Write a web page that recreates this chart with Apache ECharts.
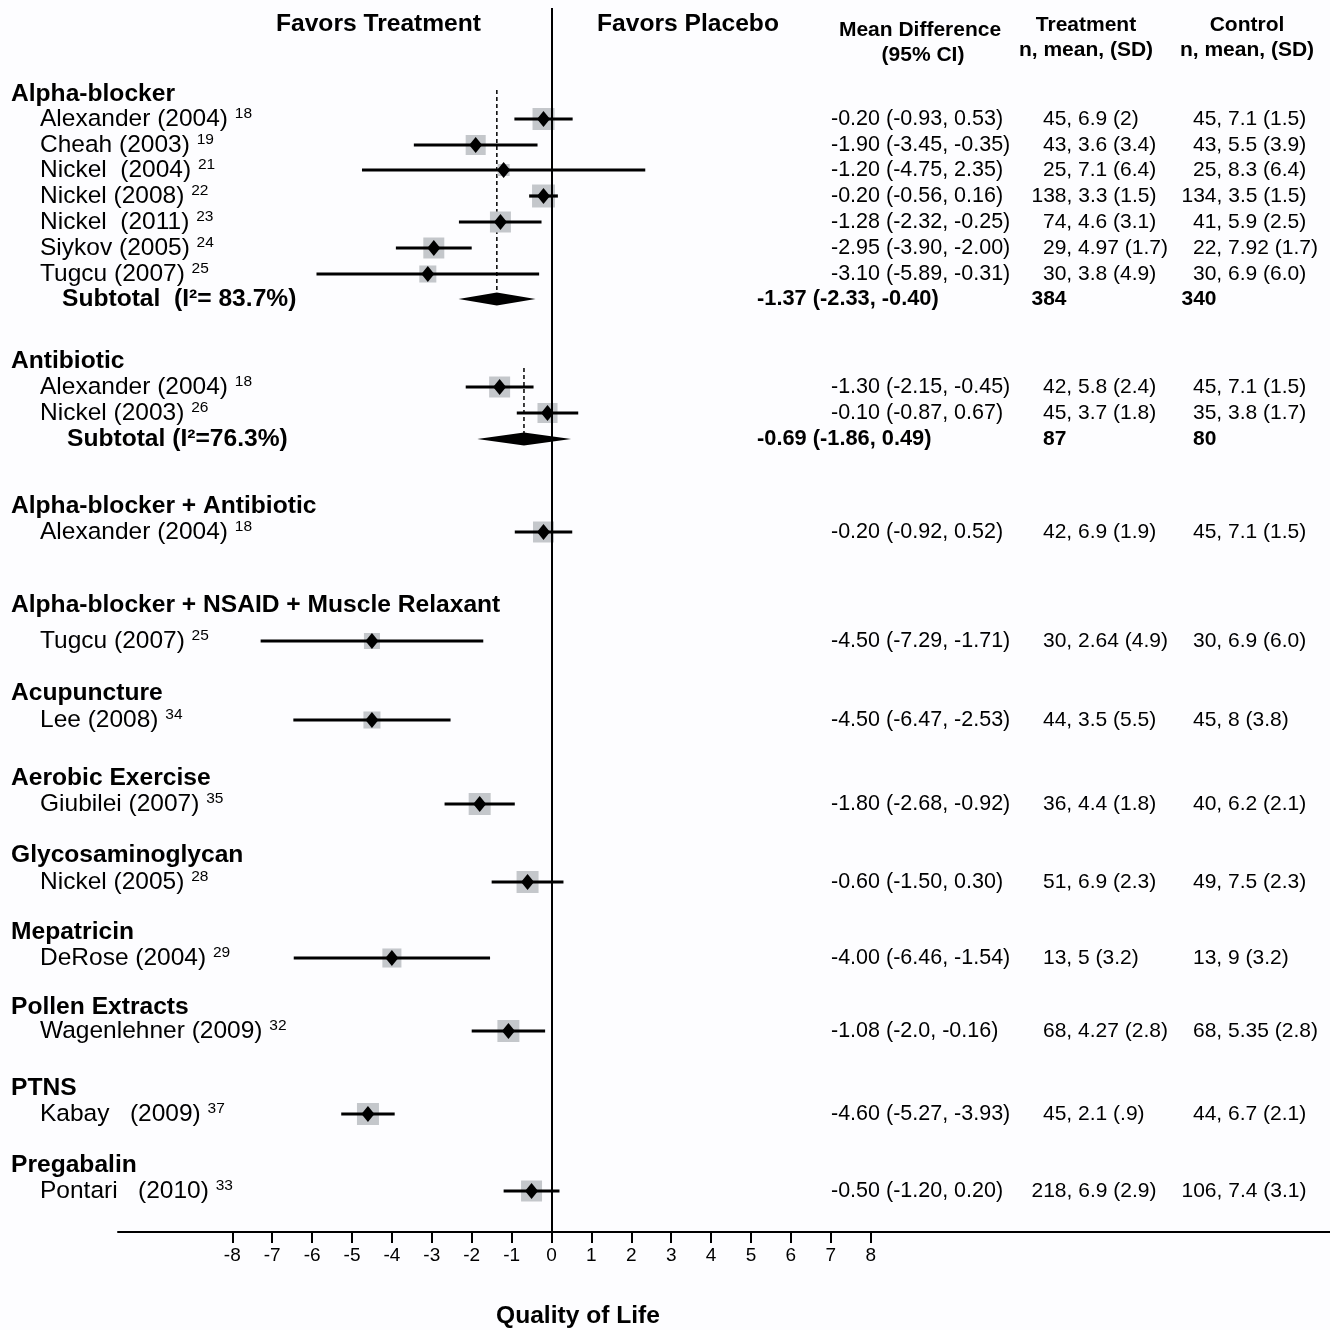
<!DOCTYPE html>
<html>
<head>
<meta charset="utf-8">
<title>Quality of Life</title>
<script src="https://cdn.jsdelivr.net/npm/echarts@6/dist/echarts.min.js"></script>
<style>
html, body { margin: 0; padding: 0; background: #fdfdff; }
#chart { width: 1330px; height: 1330px; }
</style>
</head>
<body>
<div id="chart"></div>
<script>
// ---- data ----
var groupNames = ['Alpha-blocker', 'Antibiotic', 'Alpha-blocker + Antibiotic',
    'Alpha-blocker + NSAID + Muscle Relaxant', 'Acupuncture', 'Aerobic Exercise',
    'Glycosaminoglycan', 'Mepatricin', 'Pollen Extracts', 'PTNS', 'Pregabalin'];

var studyNames = ['Alexander (2004)', 'Cheah (2003)', 'Nickel  (2004)', 'Nickel (2008)',
    'Nickel  (2011)', 'Siykov (2005)', 'Tugcu (2007)', 'Alexander (2004)', 'Nickel (2003)',
    'Alexander (2004)', 'Tugcu (2007)', 'Lee (2008)', 'Giubilei (2007)', 'Nickel (2005)',
    'DeRose (2004)', 'Wagenlehner (2009)', 'Kabay   (2009)', 'Pontari   (2010)'];
var studyRefs = ['18', '19', '21', '22', '23', '24', '25', '18', '26', '18', '25', '34',
    '35', '28', '29', '32', '37', '33'];
var meanDiff = [-0.20, -1.90, -1.20, -0.20, -1.28, -2.95, -3.10, -1.30, -0.10, -0.20,
    -4.50, -4.50, -1.80, -0.60, -4.00, -1.08, -4.60, -0.50];
var ciLow = [-0.93, -3.45, -4.75, -0.56, -2.32, -3.90, -5.89, -2.15, -0.87, -0.92,
    -7.29, -6.47, -2.68, -1.50, -6.46, -2.0, -5.27, -1.20];
var ciHigh = [0.53, -0.35, 2.35, 0.16, -0.25, -2.00, -0.31, -0.45, 0.67, 0.52,
    -1.71, -2.53, -0.92, 0.30, -1.54, -0.16, -3.93, 0.20];
var boxWeight = [100, 83, 30, 109, 91, 91, 60, 91, 83, 91, 53, 60, 100, 100, 75, 100, 100, 91];
var ciText = ['-0.20 (-0.93, 0.53)', '-1.90 (-3.45, -0.35)', '-1.20 (-4.75, 2.35)',
    '-0.20 (-0.56, 0.16)', '-1.28 (-2.32, -0.25)', '-2.95 (-3.90, -2.00)',
    '-3.10 (-5.89, -0.31)', '-1.30 (-2.15, -0.45)', '-0.10 (-0.87, 0.67)',
    '-0.20 (-0.92, 0.52)', '-4.50 (-7.29, -1.71)', '-4.50 (-6.47, -2.53)',
    '-1.80 (-2.68, -0.92)', '-0.60 (-1.50, 0.30)', '-4.00 (-6.46, -1.54)',
    '-1.08 (-2.0, -0.16)', '-4.60 (-5.27, -3.93)', '-0.50 (-1.20, 0.20)'];
var treatText = ['45, 6.9 (2)', '43, 3.6 (3.4)', '25, 7.1 (6.4)', '138, 3.3 (1.5)',
    '74, 4.6 (3.1)', '29, 4.97 (1.7)', '30, 3.8 (4.9)', '42, 5.8 (2.4)', '45, 3.7 (1.8)',
    '42, 6.9 (1.9)', '30, 2.64 (4.9)', '44, 3.5 (5.5)', '36, 4.4 (1.8)', '51, 6.9 (2.3)',
    '13, 5 (3.2)', '68, 4.27 (2.8)', '45, 2.1 (.9)', '218, 6.9 (2.9)'];
var controlText = ['45, 7.1 (1.5)', '43, 5.5 (3.9)', '25, 8.3 (6.4)', '134, 3.5 (1.5)',
    '41, 5.9 (2.5)', '22, 7.92 (1.7)', '30, 6.9 (6.0)', '45, 7.1 (1.5)', '35, 3.8 (1.7)',
    '45, 7.1 (1.5)', '30, 6.9 (6.0)', '45, 8 (3.8)', '40, 6.2 (2.1)', '49, 7.5 (2.3)',
    '13, 9 (3.2)', '68, 5.35 (2.8)', '44, 6.7 (2.1)', '106, 7.4 (3.1)'];

var subLabels = ['Subtotal  (I\u00b2= 83.7%)', 'Subtotal (I\u00b2=76.3%)'];
var subMean = [-1.37, -0.69];
var subLow = [-2.33, -1.86];
var subHigh = [-0.40, 0.49];
var subCiText = ['-1.37 (-2.33, -0.40)', '-0.69 (-1.86, 0.49)'];
var subTreatN = ['384', '87'];
var subControlN = ['340', '80'];

var tickValues = [-8, -7, -6, -5, -4, -3, -2, -1, 0, 1, 2, 3, 4, 5, 6, 7, 8];

// ---- layout (pixel rows, y axis runs in pixels) ----
var groupY = [94, 361, 506, 605, 693, 778, 855, 932, 1007, 1088, 1165];
var studyY = [119, 145, 170, 196, 222, 248, 274, 387, 413, 532, 641, 720, 804, 882, 958,
    1031, 1114, 1191];
var subY = [299, 439];
var subDashTop = [90, 368];
var subLabelX = [62, 67];

var FONT = '"Liberation Sans", Arial, Helvetica, sans-serif';
var BOLD_SIZE = 24.6;

function shiftForN(txt, base) {
    var n = txt.split(',')[0];
    return base - (n.length - 2) * 11.5;
}

var chart = echarts.init(document.getElementById('chart'));

var studyData = meanDiff.map(function (m, i) {
    return [m, ciLow[i], ciHigh[i], studyY[i], boxWeight[i]];
});
var subData = subMean.map(function (m, i) {
    return [m, subLow[i], subHigh[i], subY[i], subDashTop[i]];
});
var groupData = groupY.map(function (y) { return [0, y]; });

function renderStudy(params, api) {
    var i = params.dataIndex;
    var y = api.value(3);
    var c = api.coord([api.value(0), y]);
    var l = api.coord([api.value(1), y]);
    var h = api.coord([api.value(2), y]);
    var s = 2.2 * Math.sqrt(api.value(4));
    return {
        type: 'group',
        children: [
            { type: 'rect', shape: { x: c[0] - s / 2, y: c[1] - s / 2, width: s, height: s },
              style: { fill: '#c4c7cb' } },
            { type: 'line', shape: { x1: l[0], y1: l[1], x2: h[0], y2: h[1] },
              style: { stroke: '#000', lineWidth: 3.2 } },
            { type: 'polygon', shape: { points: [[c[0] - 6.5, c[1]], [c[0], c[1] - 8], [c[0] + 6.5, c[1]], [c[0], c[1] + 8]] },
              style: { fill: '#000' } },
            { type: 'text', x: 40, y: c[1],
              style: {
                  text: '{n|' + studyNames[i] + '} {s|' + studyRefs[i] + '}',
                  fontSize: 24.5, fontFamily: FONT, fill: '#000',
                  align: 'left', verticalAlign: 'middle',
                  rich: {
                      n: { fontSize: 24.5, fontFamily: FONT, lineHeight: 26, fill: '#000' },
                      s: { fontSize: 15.5, fontFamily: FONT, lineHeight: 15, verticalAlign: 'top', fill: '#000' }
                  }
              } },
            { type: 'text', x: 831, y: c[1],
              style: { text: ciText[i], fontSize: 21.5, fontFamily: FONT, fill: '#000',
                       align: 'left', verticalAlign: 'middle' } },
            { type: 'text', x: shiftForN(treatText[i], 1043), y: c[1],
              style: { text: treatText[i], fontSize: 21, fontFamily: FONT, fill: '#000',
                       align: 'left', verticalAlign: 'middle' } },
            { type: 'text', x: shiftForN(controlText[i], 1193), y: c[1],
              style: { text: controlText[i], fontSize: 21, fontFamily: FONT, fill: '#000',
                       align: 'left', verticalAlign: 'middle' } }
        ]
    };
}

function renderSubtotal(params, api) {
    var i = params.dataIndex;
    var y = api.value(3);
    var c = api.coord([api.value(0), y]);
    var l = api.coord([api.value(1), y]);
    var h = api.coord([api.value(2), y]);
    var top = api.coord([api.value(0), api.value(4)]);
    return {
        type: 'group',
        children: [
            { type: 'line', shape: { x1: top[0], y1: top[1], x2: c[0], y2: c[1] },
              style: { stroke: '#000', lineWidth: 1.5, lineDash: [4, 3] } },
            { type: 'polygon', shape: { points: [[l[0], c[1]], [c[0], c[1] - 6.5], [h[0], c[1]], [c[0], c[1] + 6.5]] },
              style: { fill: '#000' } },
            { type: 'text', x: subLabelX[i], y: c[1],
              style: { text: subLabels[i], fontSize: BOLD_SIZE, fontWeight: 'bold', fontFamily: FONT,
                       fill: '#000', align: 'left', verticalAlign: 'middle' } },
            { type: 'text', x: 757, y: c[1],
              style: { text: subCiText[i], fontSize: 21.8, fontWeight: 'bold', fontFamily: FONT,
                       fill: '#000', align: 'left', verticalAlign: 'middle' } },
            { type: 'text', x: shiftForN(subTreatN[i], 1043), y: c[1],
              style: { text: subTreatN[i], fontSize: 21, fontWeight: 'bold', fontFamily: FONT,
                       fill: '#000', align: 'left', verticalAlign: 'middle' } },
            { type: 'text', x: shiftForN(subControlN[i], 1193), y: c[1],
              style: { text: subControlN[i], fontSize: 21, fontWeight: 'bold', fontFamily: FONT,
                       fill: '#000', align: 'left', verticalAlign: 'middle' } }
        ]
    };
}

function renderGroup(params, api) {
    var c = api.coord([0, api.value(1)]);
    return {
        type: 'text', x: 11, y: c[1],
        style: { text: groupNames[params.dataIndex], fontSize: BOLD_SIZE, fontWeight: 'bold',
                 fontFamily: FONT, fill: '#000', align: 'left', verticalAlign: 'middle' }
    };
}

function headerText(txt, x, y, size) {
    return {
        type: 'text', x: x, y: y,
        style: { text: txt, fontSize: size, fontWeight: 'bold', fontFamily: FONT,
                 fill: '#000', align: 'center', verticalAlign: 'middle' }
    };
}

option = {
    backgroundColor: '#fdfdff',
    animation: false,
    grid: { left: 118, right: 0, top: 8, bottom: 98 },
    xAxis: {
        type: 'value',
        min: (118 - 551.5) / 39.9,
        max: (1330 - 551.5) / 39.9,
        splitLine: { show: false },
        axisLine: { show: true, onZero: false, lineStyle: { color: '#000', width: 2 } },
        axisTick: { show: true, length: 11, customValues: tickValues,
                    lineStyle: { color: '#000', width: 2 } },
        axisLabel: { customValues: tickValues, margin: 14, color: '#000',
                     fontSize: 19, fontFamily: FONT }
    },
    yAxis: {
        type: 'value',
        inverse: true,
        min: 8,
        max: 1232,
        show: false
    },
    graphic: [
        headerText('Favors Treatment', 378.5, 24, BOLD_SIZE),
        headerText('Favors Placebo', 688, 24, BOLD_SIZE),
        headerText('Mean Difference', 920, 30, 21),
        headerText('(95% CI)', 923, 55, 21),
        headerText('Treatment', 1086, 25, 21),
        headerText('n, mean, (SD)', 1086, 50, 21),
        headerText('Control', 1247, 25, 21),
        headerText('n, mean, (SD)', 1247, 50, 21),
        headerText('Quality of Life', 578, 1316, BOLD_SIZE)
    ],
    series: [
        {
            type: 'custom',
            name: 'groups',
            renderItem: renderGroup,
            data: groupData,
            encode: { x: 0, y: 1 },
            clip: false,
            silent: true,
            markLine: {
                silent: true,
                symbol: 'none',
                label: { show: false },
                lineStyle: { color: '#000', width: 2, type: 'solid' },
                data: [{ xAxis: 0 }]
            }
        },
        {
            type: 'custom',
            name: 'subtotals',
            renderItem: renderSubtotal,
            data: subData,
            encode: { x: [0, 1, 2], y: 3 },
            clip: false,
            silent: true
        },
        {
            type: 'custom',
            name: 'studies',
            renderItem: renderStudy,
            data: studyData,
            encode: { x: [0, 1, 2], y: 3 },
            clip: false,
            silent: true
        }
    ]
};
chart.setOption(option);
</script>
</body>
</html>
